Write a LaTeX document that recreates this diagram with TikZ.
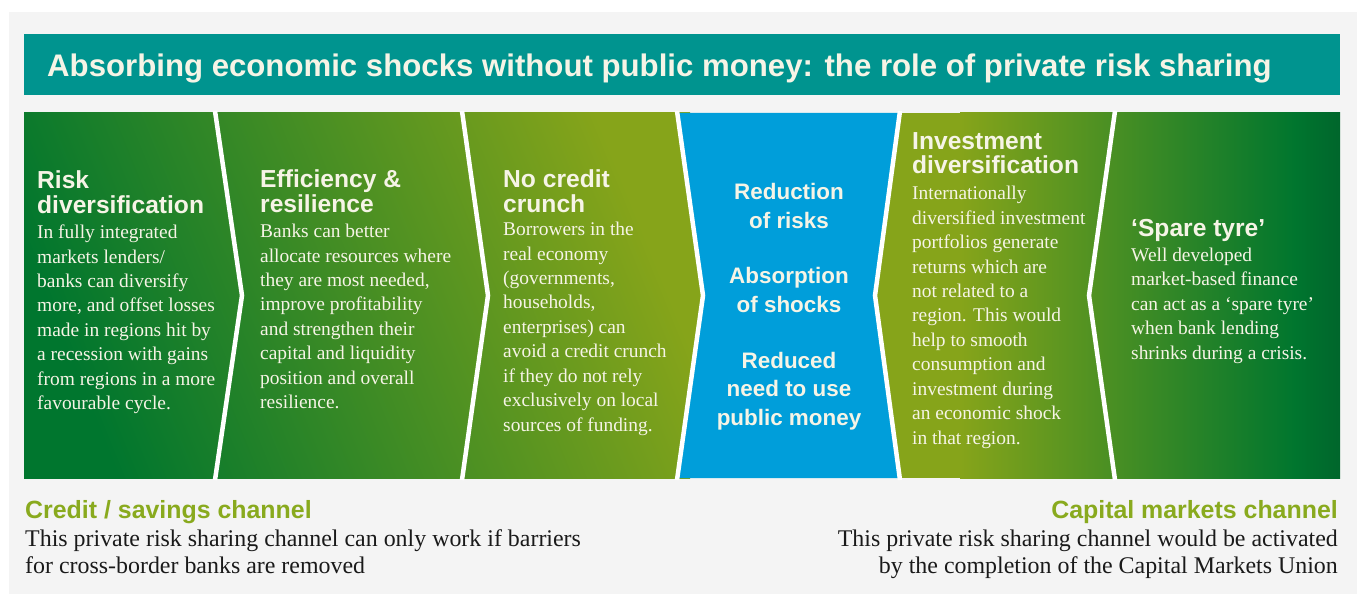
\documentclass[tikz,border=0pt]{standalone}
\usepackage{fontspec}
\setmainfont{Liberation Serif}
\setsansfont{Liberation Sans}
\usetikzlibrary{positioning}

\definecolor{bggrey}{RGB}{244,244,244}
\definecolor{titleteal}{RGB}{0,148,143}
\definecolor{panelblue}{RGB}{0,158,218}
\definecolor{darkgreen}{RGB}{0,118,46}
\definecolor{deepgreen}{RGB}{0,102,44}
\definecolor{olive}{RGB}{134,164,26}
\definecolor{headolive}{RGB}{137,170,30}
\definecolor{cream}{RGB}{246,244,230}
\definecolor{inkblack}{RGB}{26,26,26}

\newcommand{\titlefont}{\sffamily\bfseries\fontsize{31.3}{34}\selectfont}
\newcommand{\panelhead}{\sffamily\bfseries\fontsize{24.7}{25}\selectfont}
\newcommand{\paneltext}{\fontsize{19.5}{24.5}\selectfont}
\newcommand{\effectfont}{\sffamily\bfseries\fontsize{22.5}{28.5}\selectfont}
\newcommand{\channelhead}{\sffamily\bfseries\fontsize{25}{27}\selectfont}
\newcommand{\channeltext}{\fontsize{24}{27}\selectfont}

% base of a multi-line node = baseline of its last line
\tikzset{
  sep/.style={draw=white, line width=4.5bp, line join=miter},
  head/.style={anchor=base west, inner sep=0pt, align=left, text=cream, font=\panelhead},
  body/.style={anchor=base west, inner sep=0pt, align=left, text=cream, font=\paneltext},
}

\begin{document}
\begin{tikzpicture}[x=1bp, y=-1bp]
\useasboundingbox (0,0) rectangle (1357,594);
\fill[bggrey] (9,12) rectangle (1357,594);
% title bar
\fill[titleteal] (24,34) rectangle (1340,95);
\node[anchor=base west, inner sep=0pt, text=cream, font=\titlefont] (title) at (47,77)
  {Absorbing economic shocks without public money: the role of private risk sharing};

% panel band
\fill[olive] (24,113) rectangle (1340,478);
\shade[left color=darkgreen, right color=olive, shading angle=112] (24,113) rectangle (690,478);
\shade[left color=olive, right color=darkgreen] (960,113) rectangle (1295,478);
\shade[left color=darkgreen, right color=deepgreen] (1294,113) rectangle (1340,478);
\fill[panelblue] (677,113) -- (900,113) -- (875,295.5) -- (900,478) -- (677,478) -- (703,295.5) -- cycle;

\draw[sep] (215,111) -- (242,295.5) -- (215,480);
\draw[sep] (462,111) -- (488,295.5) -- (462,480);
\draw[sep] (677,111) -- (703,295.5) -- (677,480);
\draw[sep] (900,111) -- (875,295.5) -- (900,480);
\draw[sep] (1115,111) -- (1089,295.5) -- (1115,480);

\node[head] (riskhead) at (37,213) {Risk\\diversification};
\node[body] (risktext) at (37,409.5) {In fully integrated\\markets lenders/\\banks can diversify\\more, and offset losses\\made in regions hit by\\a recession with gains\\from regions in a more\\favourable cycle.};

\node[head] (effhead) at (260,212) {Efficiency \&\\resilience};
\node[body] (efftext) at (260,408.5) {Banks can better\\allocate resources where\\they are most needed,\\improve profitability\\and strengthen their\\capital and liquidity\\position and overall\\resilience.};

\node[head] (crunchhead) at (503,212) {No credit\\crunch};
\node[body] (crunchtext) at (503,431) {Borrowers in the\\real economy\\(governments,\\households,\\enterprises) can\\avoid a credit crunch\\if they do not rely\\exclusively on local\\sources of funding.};

\node[anchor=base, inner sep=0pt, align=center, text=cream, font=\effectfont] (effects) at (789,425)
  {Reduction\\of risks\\[27.5bp]Absorption\\of shocks\\[27.5bp]Reduced\\need to use\\public money};

\node[head] (investhead) at (912,174) {Investment\\diversification};
\node[body] (investtext) at (912,444) {Internationally\\diversified investment\\portfolios generate\\returns which are\\not related to a\\region. This would\\help to smooth\\consumption and\\investment during\\an economic shock\\in that region.};

\node[head] (tyrehead) at (1131,236) {‘Spare tyre’};
\node[body] (tyretext) at (1131,359) {Well developed\\market-based finance\\can act as a ‘spare tyre’\\when bank lending\\shrinks during a crisis.};

% channels
\node[anchor=base west, inner sep=0pt, text=headolive, font=\channelhead] (credithead) at (25,518) {Credit / savings channel};
\node[anchor=base west, inner sep=0pt, align=left, text=inkblack, font=\channeltext] (credittext) at (25,573)
  {This private risk sharing channel can only work if barriers\\for cross-border banks are removed};
\node[anchor=base east, inner sep=0pt, text=headolive, font=\channelhead] (capitalhead) at (1338,518) {Capital markets channel};
\node[anchor=base east, inner sep=0pt, align=right, text=inkblack, font=\channeltext] (capitaltext) at (1338,573)
  {This private risk sharing channel would be activated\\by the completion of the Capital Markets Union};
\end{tikzpicture}
\end{document}
